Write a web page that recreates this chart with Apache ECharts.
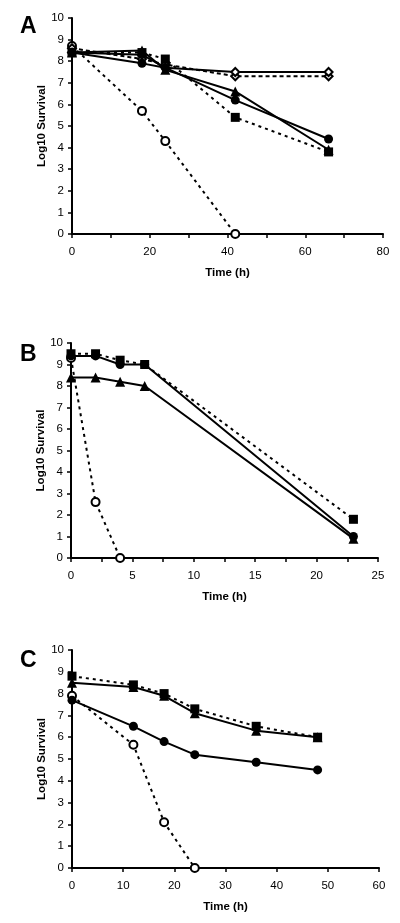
<!DOCTYPE html>
<html>
<head>
<meta charset="utf-8">
<script src="https://cdn.jsdelivr.net/npm/echarts@6/dist/echarts.min.js"></script>
<style>
html,body{margin:0;padding:0;background:#fff;}
#c{width:400px;height:923px;}
</style>
</head>
<body>
<div id="c"></div>
<script>
// ---- Panel A data ----
const timeA = [0, 18, 24, 42, 66];
const timeAOpen = [0, 18, 24, 42];
const aSolidDiamond = [8.4, 8.3, 7.7, 7.5, 7.5];
const aOpenDiamond = [8.6, 8.1, 7.85, 7.3, 7.3];
const aTriangle = [8.4, 8.5, 7.6, 6.6, 3.9];
const aCircle = [8.4, 7.9, 7.7, 6.2, 4.4];
const aSquare = [8.4, 8.4, 8.1, 5.4, 3.8];
const aOpenCircle = [8.7, 5.7, 4.3, 0];

// ---- Panel B data ----
const timeB = [0, 2, 4, 6, 23];
const timeBOpen = [0, 2, 4];
const bSquare = [9.5, 9.5, 9.2, 9.0, 1.8];
const bCircle = [9.4, 9.4, 9.0, 9.0, 1.0];
const bTriangle = [8.4, 8.4, 8.2, 8.0, 0.9];
const bOpenCircle = [9.3, 2.6, 0];

// ---- Panel C data ----
const timeC = [0, 12, 18, 24, 36, 48];
const timeCOpen = [0, 12, 18, 24];
const cSquare = [8.8, 8.4, 8.0, 7.3, 6.5, 6.0];
const cTriangle = [8.5, 8.3, 7.9, 7.1, 6.3, 6.0];
const cCircle = [7.7, 6.5, 5.8, 5.2, 4.85, 4.5];
const cOpenCircle = [7.9, 5.65, 2.1, 0];

const panelLetters = ['A', 'B', 'C'];
const yTitle = 'Log10 Survival';
const xTitle = 'Time (h)';

const FONT = "'Liberation Sans', Arial, sans-serif";

function pairs(t, v) { return t.map((x, i) => [x, v[i]]); }

function line(idx, t, v, symbol, dashed, filled, size, dash) {
  return {
    type: 'line',
    xAxisIndex: idx, yAxisIndex: idx,
    data: pairs(t, v),
    symbol: symbol,
    symbolSize: size,
    showAllSymbol: true,
    animation: false,
    clip: false,
    lineStyle: { color: '#000', width: 2, type: dashed ? (dash || [3, 4]) : 'solid' },
    itemStyle: { color: filled ? '#000' : '#fff', borderColor: '#000', borderWidth: filled ? 0 : 2, opacity: 1 },
    emphasis: { disabled: true },
    z: 3
  };
}

const grids = [
  { left: 72, top: 18, width: 311, height: 216 },
  { left: 71, top: 343, width: 307, height: 215 },
  { left: 72, top: 650, width: 307, height: 218 }
];
const xMax = [80, 25, 60];
const xInt = [10, 2.5, 10];
const xLab = [20, 5, 10];

const axisLine = { show: true, lineStyle: { color: '#000', width: 2 } };
const axisTick = { show: true, inside: false, length: 4, lineStyle: { color: '#000', width: 1.5 } };

const xAxes = grids.map((g, i) => ({
  type: 'value', gridIndex: i, min: 0, max: xMax[i], interval: xInt[i],
  axisLine, axisTick,
  splitLine: { show: false },
  axisLabel: {
    color: '#000', fontFamily: FONT, fontSize: 11.5, margin: 12,
    showMinLabel: true, showMaxLabel: true,
    formatter: v => (Math.abs(v / xLab[i] - Math.round(v / xLab[i])) < 1e-6 ? String(v) : '')
  },
  name: xTitle, nameLocation: 'middle', nameGap: 33, nameMoveOverlap: false,
  nameTextStyle: { color: '#000', fontFamily: FONT, fontSize: 11.5, fontWeight: 'bold' }
}));

const yAxes = grids.map((g, i) => ({
  type: 'value', gridIndex: i, min: 0, max: 10, interval: 1,
  axisLine, axisTick,
  splitLine: { show: false },
  axisLabel: { color: '#000', fontFamily: FONT, fontSize: 11.5, margin: 8, showMinLabel: true, showMaxLabel: true },
  name: yTitle, nameLocation: 'middle', nameGap: 24, nameMoveOverlap: false,
  nameTextStyle: { color: '#000', fontFamily: FONT, fontSize: 11.5, fontWeight: 'bold' }
}));

const letterTops = [10, 338, 644];
const titles = panelLetters.map((L, i) => ({
  text: L, left: 15, top: letterTops[i],
  textStyle: { color: '#000', fontFamily: FONT, fontSize: 23, fontWeight: 'bold' }
}));

const series = [
  // A
  line(0, timeAOpen, aOpenCircle, 'circle', true, false, 8),
  line(0, timeA, aOpenDiamond, 'diamond', true, false, 8, [4, 3]),
  line(0, timeA, aSolidDiamond, 'diamond', false, false, 8),
  line(0, timeA, aSquare, 'rect', true, true, 9),
  line(0, timeA, aCircle, 'circle', false, true, 9),
  line(0, timeA, aTriangle, 'triangle', false, true, 10),
  // B
  line(1, timeBOpen, bOpenCircle, 'circle', true, false, 8),
  line(1, timeB, bTriangle, 'triangle', false, true, 10),
  line(1, timeB, bCircle, 'circle', false, true, 9),
  line(1, timeB, bSquare, 'rect', true, true, 9),
  // C
  line(2, timeCOpen, cOpenCircle, 'circle', true, false, 8),
  line(2, timeC, cCircle, 'circle', false, true, 9),
  line(2, timeC, cTriangle, 'triangle', false, true, 10),
  line(2, timeC, cSquare, 'rect', true, true, 9)
];

const chart = echarts.init(document.getElementById('c'), null, { renderer: 'canvas' });
chart.setOption({
  backgroundColor: '#fff',
  animation: false,
  title: titles,
  grid: grids,
  xAxis: xAxes,
  yAxis: yAxes,
  series: series
});
</script>
</body>
</html>
